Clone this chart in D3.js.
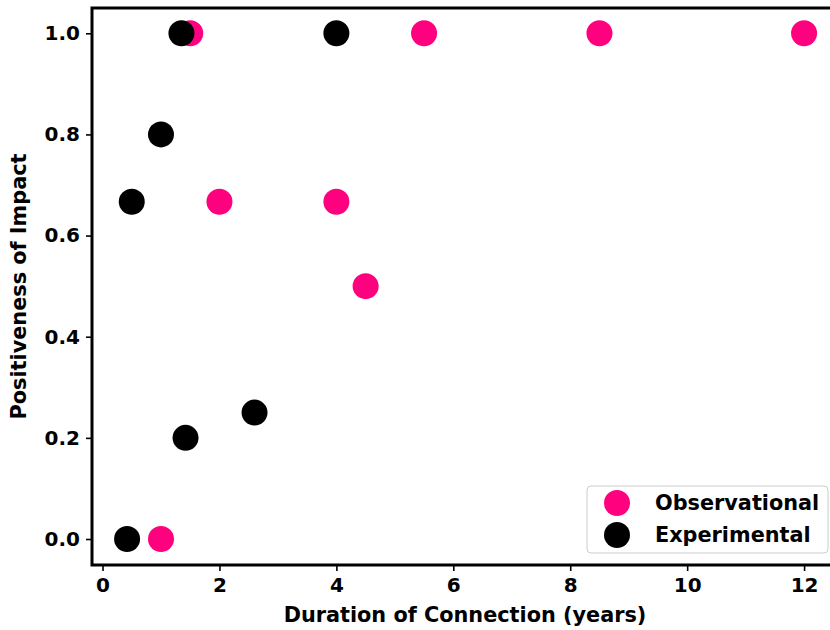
<!DOCTYPE html>
<html>
<head>
<meta charset="utf-8">
<script src="https://cdn.jsdelivr.net/npm/d3@7"></script>
<style>
  body { margin: 0; background: #fff; }
  svg { display: block; }
  svg text { font-family: "DejaVu Sans", sans-serif; font-weight: bold; }
</style>
</head>
<body>
<svg id="chart" width="830" height="630"></svg>
<script>
// observational studies
const obsDuration = [1.0, 1.5, 2.0, 4.0, 4.5, 5.5, 8.5, 12.0];
const obsImpact = [0.0, 1.0, 0.667, 0.667, 0.5, 1.0, 1.0, 1.0];
// experimental studies
const expDuration = [0.42, 0.5, 1.0, 1.35, 1.42, 2.6, 4.0];
const expImpact = [0.0, 0.667, 0.8, 1.0, 0.2, 0.25, 1.0];

const xTicks = [0, 2, 4, 6, 8, 10, 12];
const yTicks = [0.0, 0.2, 0.4, 0.6, 0.8, 1.0];

const svg = d3.select("#chart");
const margin = { top: 8, left: 92 };
const width = 746, height = 557;

const x = d3.scaleLinear().domain([-0.18, 12.58]).range([0, width]);
const y = d3.scaleLinear().domain([-0.0514, 1.05]).range([height, 0]);

const chart = svg.append("g").attr("transform", `translate(${margin.left},${margin.top})`);

const obs = obsDuration.map((d, i) => ({ x: d, y: obsImpact[i] }));
const exp = expDuration.map((d, i) => ({ x: d, y: expImpact[i] }));

chart.append("g").selectAll("circle")
  .data(obs)
  .join("circle")
  .attr("cx", d => x(d.x))
  .attr("cy", d => y(d.y))
  .attr("r", 13)
  .attr("fill", "#ff007f");

chart.append("g").selectAll("circle")
  .data(exp)
  .join("circle")
  .attr("cx", d => x(d.x))
  .attr("cy", d => y(d.y))
  .attr("r", 13)
  .attr("fill", "#000");

const xAxis = chart.append("g")
  .attr("transform", `translate(0,${height})`)
  .call(d3.axisBottom(x).tickValues(xTicks).tickFormat(d3.format("d")).tickSize(6).tickPadding(4));
const yAxis = chart.append("g")
  .call(d3.axisLeft(y).tickValues(yTicks).tickFormat(d3.format(".1f")).tickSize(6).tickPadding(6));

[xAxis, yAxis].forEach(a => {
  a.attr("font-family", null).attr("font-size", null);
  a.select(".domain").remove();
  a.selectAll(".tick line").attr("stroke", "#000").attr("stroke-width", 1.6);
  a.selectAll(".tick text").attr("fill", "#000").style("font-size", "20px");
});
xAxis.selectAll(".tick text").attr("dy", "0.85em");

// spines
chart.append("path")
  .attr("d", `M${width},0H0V${height}H${width}`)
  .attr("fill", "none")
  .attr("stroke", "#000")
  .attr("stroke-width", 3);

svg.append("text")
  .attr("x", margin.left + width / 2)
  .attr("y", 622)
  .attr("text-anchor", "middle")
  .style("font-size", "20.8px")
  .text("Duration of Connection (years)");

svg.append("text")
  .attr("transform", `translate(26,${margin.top + height / 2}) rotate(-90)`)
  .attr("text-anchor", "middle")
  .style("font-size", "20.8px")
  .text("Positiveness of Impact");

// legend
const legend = svg.append("g").attr("transform", "translate(587,486)");
legend.append("rect")
  .attr("width", 241).attr("height", 67).attr("rx", 4)
  .attr("fill", "#fff").attr("fill-opacity", 0.8)
  .attr("stroke", "#ccc").attr("stroke-width", 1);
const items = [
  { label: "Observational", color: "#ff007f" },
  { label: "Experimental", color: "#000" }
];
items.forEach((it, i) => {
  legend.append("circle").attr("cx", 30).attr("cy", 17 + i * 32).attr("r", 13).attr("fill", it.color);
  legend.append("text").attr("x", 68).attr("y", 17 + i * 32).attr("dy", "0.35em")
    .style("font-size", "20.8px").text(it.label);
});
</script>
</body>
</html>
